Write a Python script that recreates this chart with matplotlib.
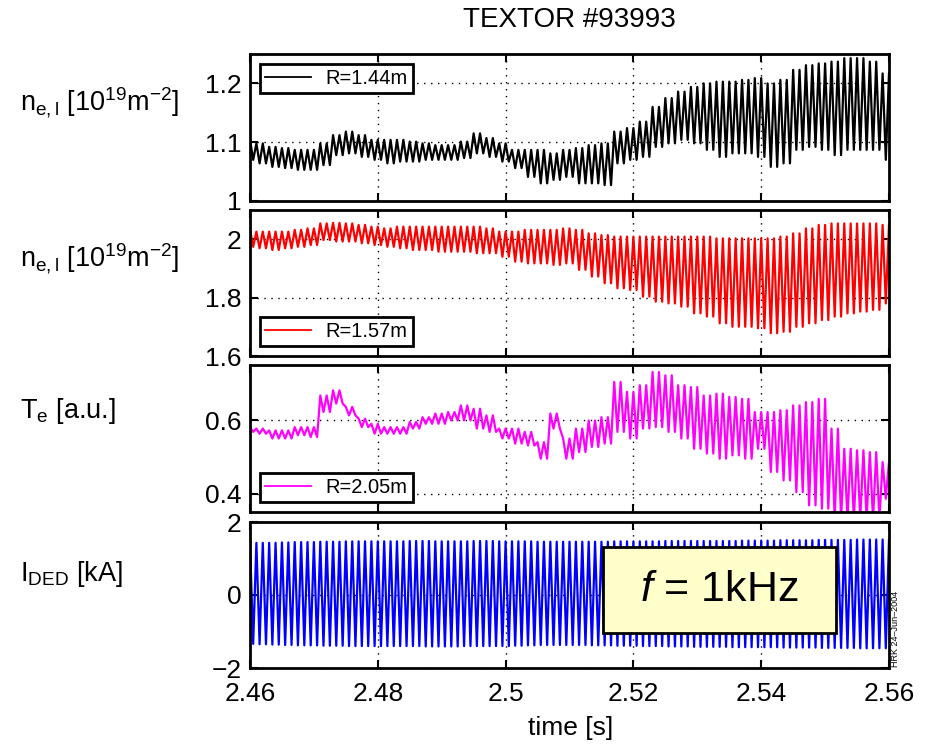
import numpy as np
import matplotlib
matplotlib.use("Agg")
import matplotlib.pyplot as plt
from matplotlib.patches import Rectangle

plt.rcParams['font.family'] = ['Liberation Sans', 'DejaVu Sans']
plt.rcParams['mathtext.fontset'] = 'custom'
plt.rcParams['mathtext.rm'] = 'Liberation Sans'
plt.rcParams['mathtext.it'] = 'Liberation Sans:italic'

# ---------------- data ----------------
T_START, T_END = 2.46, 2.56
PERIOD = 0.001            # 1 kHz modulation
N_CYCLES = 100
# envelope knots every 2 ms from 2.460 to 2.560 (51 values)
ne144_upper = [1.104, 1.098, 1.092, 1.090, 1.087, 1.087, 1.098, 1.112, 1.118, 1.112,
               1.104, 1.104, 1.104, 1.101, 1.098, 1.095, 1.095, 1.101, 1.115, 1.107,
               1.098, 1.087, 1.087, 1.087, 1.081,
               1.087, 1.090, 1.095, 1.098, 1.118, 1.124, 1.135, 1.160, 1.175, 1.186,
               1.194, 1.200, 1.203, 1.203, 1.206, 1.209, 1.200, 1.206, 1.223, 1.231,
               1.234, 1.237, 1.243, 1.243, 1.237, 1.217]
ne144_lower = [1.070, 1.064, 1.058, 1.056, 1.053, 1.053, 1.061, 1.078, 1.081, 1.075,
               1.070, 1.064, 1.067, 1.067, 1.070, 1.070, 1.070, 1.073, 1.081, 1.075,
               1.067, 1.056, 1.041, 1.030, 1.036,
               1.041, 1.030, 1.030, 1.027, 1.064, 1.070, 1.075, 1.092, 1.098, 1.104,
               1.098, 1.087, 1.075, 1.081, 1.081, 1.075, 1.058, 1.064, 1.087, 1.092,
               1.087, 1.078, 1.087, 1.087, 1.087, 1.070]
ne157_upper = [2.032, 2.026, 2.026, 2.026, 2.032, 2.037, 2.054, 2.056, 2.054, 2.049,
               2.043, 2.037, 2.043, 2.043, 2.043, 2.043, 2.043, 2.043, 2.043, 2.037,
               2.026, 2.026, 2.032, 2.032, 2.032,
               2.037, 2.032, 2.020, 2.014, 2.009, 2.009, 2.009, 2.009, 2.009, 2.009,
               2.009, 2.009, 2.003, 2.003, 2.003, 2.003, 2.003, 2.009, 2.020, 2.037,
               2.049, 2.054, 2.054, 2.054, 2.054, 2.049]
ne157_lower = [1.974, 1.969, 1.963, 1.969, 1.974, 1.980, 1.997, 1.992, 1.992, 1.986,
               1.980, 1.974, 1.969, 1.963, 1.963, 1.957, 1.957, 1.957, 1.952, 1.952,
               1.940, 1.923, 1.917, 1.917, 1.912,
               1.917, 1.895, 1.872, 1.849, 1.832, 1.826, 1.803, 1.786, 1.780, 1.769,
               1.746, 1.735, 1.712, 1.700, 1.700, 1.695, 1.678, 1.683, 1.700, 1.712,
               1.723, 1.735, 1.746, 1.752, 1.758, 1.780]
te205_upper = [0.581, 0.577, 0.572, 0.572, 0.581, 0.581, 0.667, 0.681, 0.636, 0.604,
               0.590, 0.581, 0.581, 0.595, 0.608, 0.618, 0.622, 0.640, 0.631, 0.613,
               0.577, 0.577, 0.568, 0.540, 0.618,
               0.550, 0.577, 0.599, 0.608, 0.704, 0.677, 0.695, 0.731, 0.722, 0.695,
               0.690, 0.667, 0.672, 0.663, 0.658, 0.622, 0.622, 0.627, 0.640, 0.649,
               0.658, 0.577, 0.522, 0.518, 0.513, 0.486]
te205_lower = [0.568, 0.563, 0.550, 0.550, 0.559, 0.554, 0.622, 0.645, 0.613, 0.581,
               0.563, 0.563, 0.563, 0.577, 0.590, 0.590, 0.599, 0.599, 0.577, 0.568,
               0.550, 0.536, 0.531, 0.495, 0.577,
               0.495, 0.513, 0.527, 0.536, 0.568, 0.550, 0.577, 0.581, 0.568, 0.550,
               0.522, 0.509, 0.495, 0.504, 0.495, 0.522, 0.459, 0.436, 0.404, 0.368,
               0.359, 0.330, 0.330, 0.330, 0.330, 0.386]
ided_upper = [1.42, 1.43, 1.43, 1.44, 1.45, 1.45, 1.46, 1.46, 1.47, 1.47,
              1.47, 1.47, 1.47, 1.48, 1.48, 1.47, 1.47, 1.47, 1.48, 1.48,
              1.47, 1.47, 1.47, 1.46, 1.46,
              1.46, 1.46, 1.46, 1.46, 1.47, 1.47, 1.47, 1.47, 1.48, 1.48,
              1.48, 1.48, 1.48, 1.48, 1.49, 1.49, 1.49, 1.50, 1.50, 1.50,
              1.51, 1.51, 1.51, 1.52, 1.52, 1.52]
ided_lower = [-1.34, -1.35, -1.36, -1.37, -1.38, -1.38, -1.39, -1.39, -1.40, -1.40,
              -1.40, -1.40, -1.40, -1.40, -1.41, -1.41, -1.41, -1.40, -1.40, -1.40,
              -1.40, -1.39, -1.38, -1.37, -1.37,
              -1.37, -1.37, -1.38, -1.38, -1.39, -1.39, -1.40, -1.40, -1.41, -1.41,
              -1.42, -1.42, -1.42, -1.43, -1.43, -1.43, -1.43, -1.44, -1.44, -1.44,
              -1.45, -1.45, -1.45, -1.46, -1.46, -1.46]

series_labels = ['R=1.44m', 'R=1.57m', 'R=2.05m', None]
series_colors = ['#000000', '#ff0000', '#ff00ff', '#0000ff']
ylabels = [r'n$_{\mathregular{e,l}}$ [10$^{\mathregular{19}}$m$^{\mathregular{-2}}$]',
           r'n$_{\mathregular{e,l}}$ [10$^{\mathregular{19}}$m$^{\mathregular{-2}}$]',
           r'T$_{\mathregular{e}}$ [a.u.]',
           r'I$_{\mathregular{DED}}$ [kA]']
ylims = [(1.0, 1.25), (1.6, 2.1), (0.35, 0.75), (-2, 2)]
yticks = [[1.0, 1.1, 1.2], [1.6, 1.8, 2.0], [0.4, 0.6], [-2, 0, 2]]
yticklabels = [['1', '1.1', '1.2'], ['1.6', '1.8', '2'], ['0.4', '0.6'],
               ['\u22122', '0', '2']]
xticks = [2.46, 2.48, 2.50, 2.52, 2.54, 2.56]
xticklabels = ['2.46', '2.48', '2.5', '2.52', '2.54', '2.56']
legend_locs = ['upper left', 'lower left', 'lower left', None]
title = 'TEXTOR #93993'
xlabel = 'time [s]'
stamp = 'HRK 24\u2013Jun\u20132004'


def zigzag(upper, lower):
    up = np.asarray(upper)
    lo = np.asarray(lower)
    k = np.arange(N_CYCLES)
    idx = (k + 1) // 2
    t_peak = T_START + k * PERIOD
    t_trough = t_peak + PERIOD / 2
    t = np.column_stack([t_peak, t_trough]).ravel()
    y = np.column_stack([up[idx], lo[idx]]).ravel()
    return np.append(t, T_END), np.append(y, up[-1])


envelopes = [(ne144_upper, ne144_lower), (ne157_upper, ne157_lower),
             (te205_upper, te205_lower), (ided_upper, ided_lower)]

# ---------------- figure ----------------
W, H = 933, 744
fig = plt.figure(figsize=(W / 100, H / 100), dpi=100)
panel_px = [(54, 201), (210, 356), (365, 512), (522, 668)]
ylabel_base = [111, 267, 418, 581]
L, R = 250, 889

axes = []
for i, (top, bot) in enumerate(panel_px):
    ax = fig.add_axes([L / W, 1 - bot / H, (R - L) / W, (bot - top) / H])
    axes.append(ax)
    t, y = zigzag(*envelopes[i])
    ax.plot(t, y, color=series_colors[i], lw=1.6, label=series_labels[i])
    ax.set_xlim(T_START, T_END)
    ax.set_ylim(*ylims[i])
    ax.set_xticks(xticks)
    ax.set_yticks(yticks[i])
    ax.set_yticklabels(yticklabels[i])
    if i == 3:
        ax.set_xticklabels(xticklabels)
    else:
        ax.set_xticklabels([])
    ax.grid(True, color='black', linestyle=(0, (1, 4)), linewidth=1.0)
    ax.tick_params(direction='in', top=True, right=True, length=6, width=1.5,
                   labelsize=19)
    ax.tick_params(axis='y', pad=6)
    ax.tick_params(axis='x', pad=10)
    for s in ax.spines.values():
        s.set_linewidth(2.0)
    if legend_locs[i]:
        leg = ax.legend(loc=legend_locs[i], fontsize=14.5, fancybox=False,
                        edgecolor='black', framealpha=1, borderpad=0.25,
                        handlelength=2.3, handletextpad=0.7, borderaxespad=0.5)
        leg.get_frame().set_linewidth(2.0)
        leg.get_lines()[0].set_linewidth(1.3)
    fig.text(20 / W, 1 - ylabel_base[i] / H, ylabels[i], fontsize=19.5,
             ha='left', va='baseline')

fig.text(569 / W, 1 - 20 / H, title, fontsize=20, ha='center', va='center')
fig.text(571 / W, 1 - 728 / H, xlabel, fontsize=19, ha='center', va='center')
fig.text(896 / W, 1 - 667 / H, stamp, fontsize=6.5, rotation=90,
         ha='center', va='bottom')

ax4 = axes[3]
x0, x1 = (603 - L) / (R - L), (836 - L) / (R - L)
y0, y1 = (668 - 633) / 146, (668 - 547) / 146
ax4.add_patch(Rectangle((x0, y0), x1 - x0, y1 - y0, transform=ax4.transAxes,
                        facecolor='#ffffcc', edgecolor='black', lw=2.0, zorder=5))
ax4.text((x0 + x1) / 2, (y0 + y1) / 2, r'$\mathit{f}$ = 1kHz', transform=ax4.transAxes,
         fontsize=31, ha='center', va='center', zorder=6)

fig.savefig('out.png', dpi=100)
